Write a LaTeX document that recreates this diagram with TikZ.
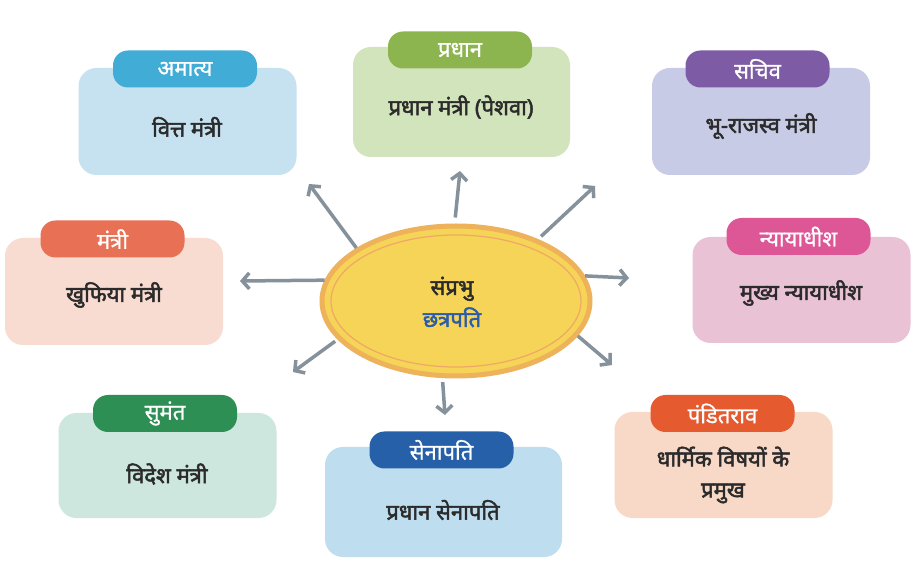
\documentclass[tikz,border=0pt]{standalone}
\usepackage{fontspec}
\newfontfamily\dev[Script=Devanagari]{Noto Sans}
\newfontfamily\devb[Script=Devanagari,FakeBold=2.2]{Noto Sans}
\newfontfamily\devm[Script=Devanagari,FakeBold=0.8]{Noto Sans}
\usetikzlibrary{shapes.geometric,arrows.meta}
\definecolor{txt}{HTML}{2B2B2B}
\definecolor{arrowgray}{HTML}{85919B}
\definecolor{sunfill}{HTML}{F5D457}
\definecolor{sunline}{HTML}{EDB25A}
\definecolor{sunring}{HTML}{EFA865}
\definecolor{blueword}{HTML}{2A5CA8}
\definecolor{tabA}{HTML}{41ACD5}\definecolor{boxA}{HTML}{C6E2F0}
\definecolor{tabB}{HTML}{8DB54F}\definecolor{boxB}{HTML}{D2E4BC}
\definecolor{tabC}{HTML}{7E5BA5}\definecolor{boxC}{HTML}{C8CBE5}
\definecolor{tabD}{HTML}{DD5797}\definecolor{boxD}{HTML}{EAC2D6}
\definecolor{tabE}{HTML}{E55A2E}\definecolor{boxE}{HTML}{F8D8C6}
\definecolor{tabF}{HTML}{E87054}\definecolor{boxF}{HTML}{F9DCD1}
\definecolor{tabG}{HTML}{2E8F55}\definecolor{boxG}{HTML}{CDE7DE}
\definecolor{tabH}{HTML}{2560A8}\definecolor{boxH}{HTML}{BEDDEE}
\begin{document}
\begin{tikzpicture}[x=1pt,y=-1pt,
  box/.style={rectangle, rounded corners=18pt, minimum width=218pt, minimum height=107pt, inner sep=0pt},
  tab/.style={rectangle, rounded corners=15pt, minimum width=144pt, minimum height=37pt, inner sep=0pt, text=white, font=\devm\fontsize{22}{24}\selectfont},
  body/.style={text=txt, font=\devb\fontsize{22}{31}\selectfont, align=center, inner sep=0pt},
  arr/.style={draw=arrowgray, line width=3.5pt, -{Straight Barb[length=7pt,width=16pt]}}]
\useasboundingbox (0,0) rectangle (922,577);
\fill[white] (0,0) rectangle (922,577);

% boxes
\node[box, fill=boxA] (bA) at (187.5,121.5) {};
\node[box, fill=boxB, minimum width=217pt, minimum height=110pt] (bB) at (461.5,102) {};
\node[box, fill=boxC] (bC) at (761,121.5) {};
\node[box, fill=boxD, minimum height=106pt] (bD) at (801.5,290) {};
\node[box, fill=boxE, minimum height=106pt] (bE) at (723.5,465) {};
\node[box, fill=boxF] (bF) at (114,291.5) {};
\node[box, fill=boxG, minimum height=105pt] (bG) at (167.5,465.5) {};
\node[box, fill=boxH, minimum width=237pt, minimum height=110pt] (bH) at (443.5,502) {};

% tabs
\node[tab, fill=tabA] (tA) at (185,69) {अमात्य};
\node[tab, fill=tabB] (tB) at (460,50) {प्रधान};
\node[tab, fill=tabC] (tC) at (757.5,69) {सचिव};
\node[tab, fill=tabD] (tD) at (798.5,236.5) {न्यायाधीश};
\node[tab, fill=tabE] (tE) at (722.5,413.5) {पंडितराव};
\node[tab, fill=tabF] (tF) at (112.5,239) {मंत्री};
\node[tab, fill=tabG] (tG) at (165,413.5) {सुमंत};
\node[tab, fill=tabH] (tH) at (441.5,450) {सेनापति};

% body texts
\node[body] (xA) at (187,127) {वित्त मंत्री};
\node[body] (xB) at (461,107) {प्रधान मंत्री (पेशवा)};
\node[body] (xC) at (761,126) {भू-राजस्व मंत्री};
\node[body] (xD) at (801,293) {मुख्य न्यायाधीश};
\node[body] (xE) at (723,475) {धार्मिक विषयों के\\प्रमुख};
\node[body] (xF) at (114,295) {खुफिया मंत्री};
\node[body] (xG) at (167,474) {विदेश मंत्री};
\node[body] (xH) at (443,510) {प्रधान सेनापति};

% arrow ends
\coordinate (e1) at (309,184);
\coordinate (e2) at (460,171);
\coordinate (e3) at (595,186);
\coordinate (e4) at (629,278);
\coordinate (e5) at (612,365);
\coordinate (e6) at (445,415);
\coordinate (e7) at (293,372);
\coordinate (e8) at (240,281);

% centre
\node[ellipse, fill=sunfill, draw=sunline, line width=5pt, minimum width=268pt, minimum height=150pt, inner sep=0pt] (c) at (456,301) {};
\draw[sunring, line width=1.2pt] (c.center) ellipse [x radius=125, y radius=66];
\node[text=txt, font=\devb\fontsize{22}{32}\selectfont, align=center] (ct) at (452,302) {संप्रभु\\\textcolor{blueword}{छत्रपति}};

\draw[arr] (c.152) -- (e1);
\draw[arr, shorten <=6pt] (c.91) -- (e2);
\draw[arr, shorten <=4pt] (c.37) -- (e3);
\draw[arr] (c.11) -- (e4);
\draw[arr] (c.-16) -- (e5);
\draw[arr, shorten <=4pt] (c.260) -- (e6);
\draw[arr, shorten <=3pt] (c.198) -- (e7);
\draw[arr] (c.171) -- (e8);
\end{tikzpicture}
\end{document}
